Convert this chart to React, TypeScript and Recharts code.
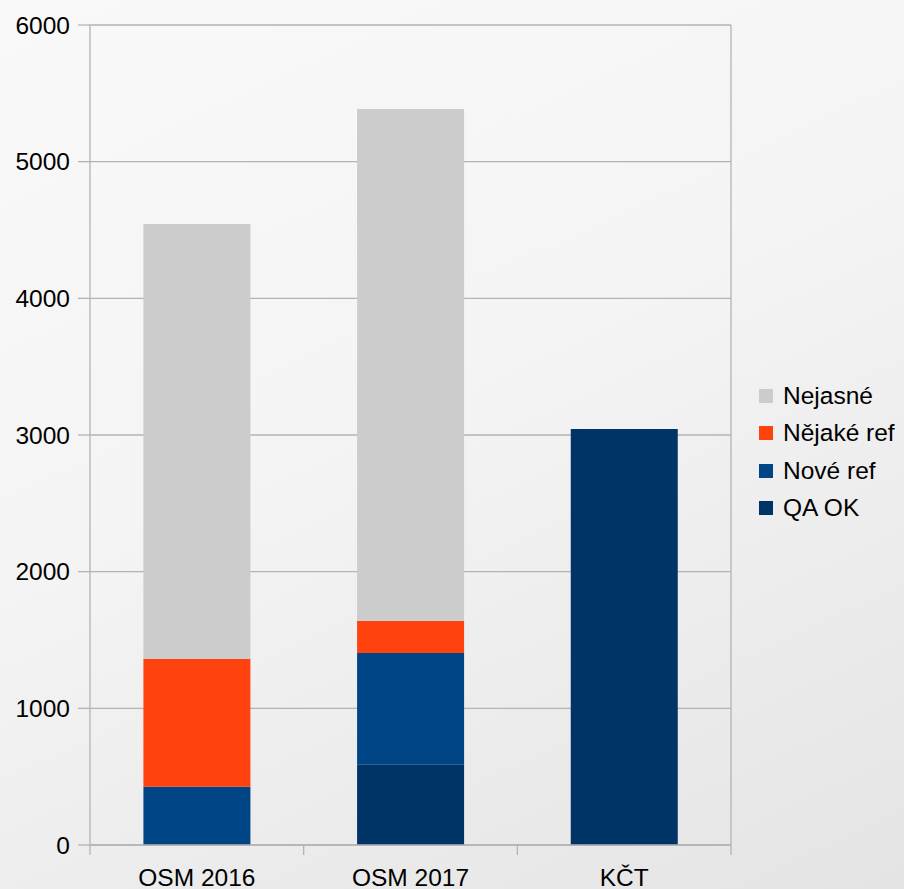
import { BarChart, Bar, XAxis, YAxis, CartesianGrid } from 'recharts'

const categories = ['OSM 2016', 'OSM 2017', 'KČT']
const qaOk = [0, 588, 3044]
const noveRef = [427, 817, 0]
const nejakeRef = [934, 234, 0]
const nejasne = [3183, 3746, 0]
const yTicks = [0, 1000, 2000, 3000, 4000, 5000, 6000]

const series = [
  { key: 'qaOk', name: 'QA OK', color: '#003366' },
  { key: 'noveRef', name: 'Nové ref', color: '#004586' },
  { key: 'nejakeRef', name: 'Nějaké ref', color: '#ff420e' },
  { key: 'nejasne', name: 'Nejasné', color: '#cccccc' },
]

const data = categories.map((name, i) => ({
  name,
  qaOk: qaOk[i],
  noveRef: noveRef[i],
  nejakeRef: nejakeRef[i],
  nejasne: nejasne[i],
}))

const W = 904
const H = 889
const margin = { top: 25, right: 173, left: 0, bottom: 0 }
const yAxisWidth = 90
const band = (W - margin.left - margin.right - yAxisWidth) / categories.length

const font = '"Liberation Sans", Arial, sans-serif'
const grid = '#b3b3b3'

// category label plus tick marks on the category boundaries
function XTick(props: any) {
  const { x, y, payload, index } = props
  const y0 = y - 24
  return (
    <g>
      <line x1={x - band / 2} x2={x - band / 2} y1={y0} y2={y0 + 10} stroke={grid} strokeWidth={1.3} />
      {index === categories.length - 1 && (
        <line x1={x + band / 2} x2={x + band / 2} y1={y0} y2={y0 + 10} stroke={grid} strokeWidth={1.3} />
      )}
      <text x={x} y={y} dy="0.71em" textAnchor="middle" fill="#000" fontSize={24.5} fontFamily={font}>
        {payload.value}
      </text>
    </g>
  )
}

function LegendBox() {
  return (
    <div style={{ position: 'absolute', left: 759, top: 377, fontFamily: font, fontSize: 24.5, color: '#000' }}>
      {[...series].reverse().map(s => (
        <div key={s.key} style={{ display: 'flex', alignItems: 'center', height: 37.5 }}>
          <span style={{ width: 14, height: 14, background: s.color, marginRight: 10, display: 'inline-block' }} />
          <span>{s.name}</span>
        </div>
      ))}
    </div>
  )
}

export default function App() {
  return (
    <div style={{
      position: 'absolute', left: 0, top: 0, width: W, height: H,
      background: 'linear-gradient(155deg, #f9f9f9 0%, #f4f4f4 45%, #e4e4e4 100%)',
    }}>
      <BarChart width={W} height={H} data={data} barCategoryGap="25%" margin={margin}>
        <CartesianGrid stroke={grid} strokeWidth={1.3}
          verticalCoordinatesGenerator={({ offset }: any) => [offset.left + offset.width]} />
        <XAxis dataKey="name" height={44} tickLine={false} tickSize={10} tickMargin={14}
          axisLine={{ stroke: grid, strokeWidth: 1.3 }} tick={<XTick />} />
        <YAxis width={yAxisWidth} domain={[0, 6000]} ticks={yTicks} tickSize={12} tickMargin={8}
          axisLine={{ stroke: grid, strokeWidth: 1.3 }} tickLine={{ stroke: grid, strokeWidth: 1.3 }}
          tick={{ fill: '#000', fontSize: 24.5, fontFamily: font }} />
        {series.map(s => (
          <Bar key={s.key} dataKey={s.key} name={s.name} stackId="a" fill={s.color} isAnimationActive={false} />
        ))}
      </BarChart>
      <LegendBox />
    </div>
  )
}
